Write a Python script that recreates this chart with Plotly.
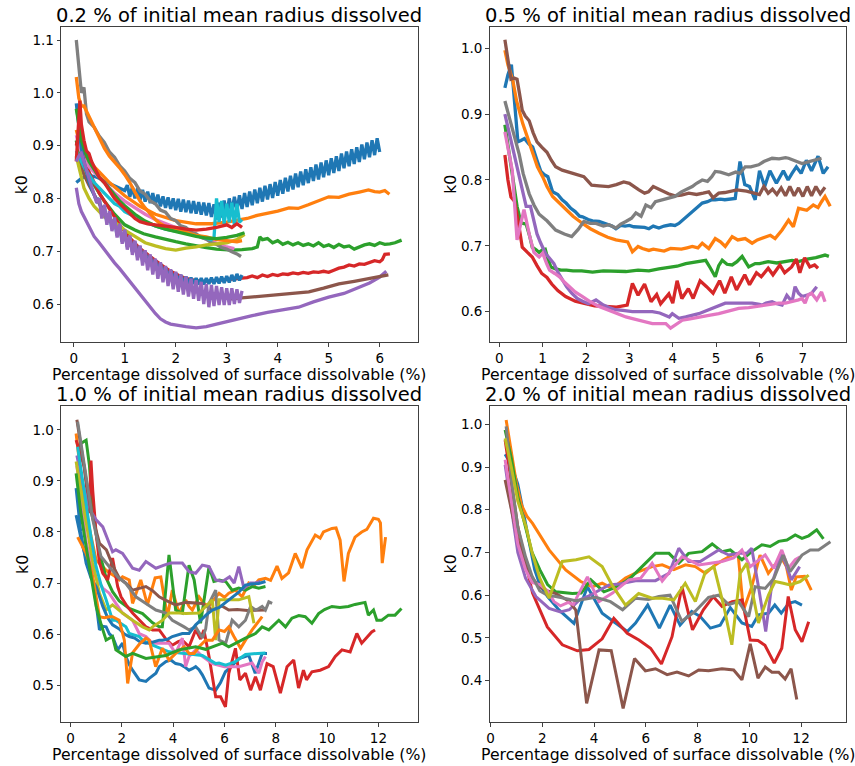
import numpy as np
import plotly.graph_objects as go

# ---------------------------------------------------------------- text
TITLES = [
    "0.2 % of initial mean radius dissolved",
    "0.5 % of initial mean radius dissolved",
    "1.0 % of initial mean radius dissolved",
    "2.0 % of initial mean radius dissolved",
]
X_LABEL = "Percentage dissolved of surface dissolvable (%)"
Y_LABEL = "k0"

P1_XTICKS = [0, 1, 2, 3, 4, 5, 6]
P1_YTICKS = [0.6, 0.7, 0.8, 0.9, 1.0, 1.1]
P2_XTICKS = [0, 1, 2, 3, 4, 5, 6, 7]
P2_YTICKS = [0.6, 0.7, 0.8, 0.9, 1.0]
P3_XTICKS = [0, 2, 4, 6, 8, 10, 12]
P3_YTICKS = [0.5, 0.6, 0.7, 0.8, 0.9, 1.0]
P4_XTICKS = [0, 2, 4, 6, 8, 10, 12]
P4_YTICKS = [0.4, 0.5, 0.6, 0.7, 0.8, 0.9, 1.0]

# ---------------------------------------------------------------- panel 1 (0.2 %)
P1_BLUE_UP_Y = [
    0.830, 0.835, 0.838, 0.840, 0.842, 0.845, 0.843, 0.842, 0.840, 0.838,
    0.835, 0.832, 0.830, 0.828, 0.826, 0.824, 0.822, 0.820, 0.818, 0.815,
    0.825, 0.803, 0.822, 0.800, 0.819, 0.797, 0.816, 0.794, 0.813, 0.791,
    0.810, 0.788, 0.807, 0.785, 0.804, 0.782, 0.802, 0.780, 0.800, 0.778,
    0.799, 0.775, 0.798, 0.774, 0.796, 0.772, 0.795, 0.771, 0.793, 0.769,
    0.792, 0.768, 0.791, 0.765, 0.789, 0.760, 0.792, 0.764, 0.796, 0.770,
    0.800, 0.774, 0.803, 0.777, 0.806, 0.780, 0.810, 0.784, 0.813, 0.787,
    0.817, 0.791, 0.820, 0.794, 0.824, 0.798, 0.827, 0.801, 0.831, 0.805,
    0.835, 0.809, 0.839, 0.813, 0.843, 0.817, 0.847, 0.821, 0.851, 0.825,
    0.855, 0.829, 0.859, 0.833, 0.864, 0.836, 0.868, 0.840, 0.872, 0.844,
    0.876, 0.848, 0.880, 0.852, 0.885, 0.857, 0.889, 0.861, 0.893, 0.865,
    0.897, 0.869, 0.902, 0.874, 0.906, 0.878, 0.910, 0.882, 0.914, 0.888,
]
P1_BLUE_UP_X = np.linspace(0.05, 6.0, len(P1_BLUE_UP_Y))

P1_BLUE_LOW_Y = [
    0.980, 0.930, 0.895, 0.870, 0.850, 0.832, 0.818, 0.805, 0.795,
    0.800, 0.770, 0.785, 0.755, 0.772, 0.742, 0.760, 0.730, 0.748, 0.718,
    0.737, 0.708, 0.727, 0.699, 0.718, 0.690, 0.709, 0.682, 0.700, 0.675,
    0.692, 0.668, 0.684, 0.662, 0.677, 0.656, 0.670, 0.651, 0.664, 0.647,
    0.659, 0.643, 0.655, 0.640, 0.652, 0.639, 0.650, 0.638, 0.649, 0.637,
    0.649, 0.637, 0.649, 0.638, 0.650, 0.638, 0.651, 0.639, 0.652, 0.640,
    0.653, 0.641, 0.655, 0.643, 0.657, 0.645, 0.655,
]
P1_BLUE_LOW_X = np.linspace(0.05, 3.30, len(P1_BLUE_LOW_Y))

P1_PURPLE_ZZ_Y = [
    0.870, 0.880, 0.885, 0.870, 0.850, 0.835, 0.820, 0.805, 0.792,
    0.800, 0.762, 0.788, 0.750, 0.776, 0.738, 0.764, 0.726, 0.752, 0.714,
    0.741, 0.703, 0.730, 0.693, 0.720, 0.683, 0.711, 0.673, 0.702, 0.664,
    0.694, 0.656, 0.686, 0.648, 0.679, 0.641, 0.672, 0.634, 0.666, 0.628,
    0.661, 0.623, 0.656, 0.618, 0.652, 0.614, 0.648, 0.610, 0.645, 0.606,
    0.642, 0.600, 0.638, 0.594, 0.636, 0.596, 0.634, 0.598, 0.632, 0.598,
    0.630, 0.598, 0.630, 0.600, 0.628, 0.602, 0.625,
]
P1_PURPLE_ZZ_X = np.linspace(0.05, 3.30, len(P1_PURPLE_ZZ_Y))

P1_GRAY_X = [0.05, 0.1, 0.15, 0.2, 0.25, 0.3, 0.4, 0.5, 0.6, 0.7, 0.8, 0.9, 1.0, 1.1, 1.2, 1.3, 1.4, 1.5,
             1.6, 1.7, 1.8, 1.9, 2.0, 2.1, 2.2, 2.3, 2.4, 2.5, 2.6, 2.7, 2.8, 2.9, 3.0, 3.1, 3.2, 3.28]
P1_GRAY_Y = [1.10, 1.05, 1.00, 1.01, 0.96, 0.945, 0.935, 0.918, 0.906, 0.888, 0.878, 0.862, 0.852, 0.838,
             0.830, 0.814, 0.808, 0.795, 0.790, 0.778, 0.774, 0.762, 0.758, 0.748, 0.745, 0.736, 0.733,
             0.726, 0.723, 0.716, 0.713, 0.707, 0.704, 0.699, 0.695, 0.690]

P1_ORANGE_SHORT_X = [0.05, 0.1, 0.15, 0.2, 0.3, 0.4, 0.5, 0.6, 0.7, 0.8, 0.9, 1.0, 1.1, 1.2, 1.3, 1.4,
                     1.5, 1.6, 1.7, 1.8, 2.0, 2.2, 2.4, 2.6, 2.8, 3.0, 3.2, 3.3]
P1_ORANGE_SHORT_Y = [1.03, 0.99, 0.975, 0.975, 0.955, 0.935, 0.915, 0.895, 0.88, 0.87, 0.858, 0.845,
                     0.83, 0.812, 0.795, 0.782, 0.77, 0.76, 0.752, 0.747, 0.742, 0.736, 0.73, 0.727,
                     0.722, 0.72, 0.718, 0.72]

P1_ORANGE_LONG_X = [0.05, 0.1, 0.2, 0.3, 0.5, 0.7, 1.0, 1.3, 1.6, 2.0, 2.4, 2.7, 3.0, 3.24, 3.4, 3.6,
                    3.8, 4.0, 4.22, 4.4, 4.6, 4.8, 5.0, 5.2, 5.4, 5.6, 5.78, 5.9, 6.0, 6.1, 6.19]
P1_ORANGE_LONG_Y = [0.93, 0.91, 0.89, 0.87, 0.85, 0.83, 0.805, 0.785, 0.77, 0.758, 0.752, 0.752, 0.755,
                    0.759, 0.762, 0.768, 0.772, 0.776, 0.782, 0.781, 0.788, 0.795, 0.803, 0.802, 0.808,
                    0.812, 0.816, 0.813, 0.812, 0.815, 0.808]

P1_GREEN_SHORT_X = [0.05, 0.1, 0.15, 0.2, 0.3, 0.4, 0.5, 0.6, 0.7, 0.8, 0.9, 1.0, 1.1, 1.2, 1.4, 1.6,
                    1.8, 2.0, 2.2, 2.4, 2.6, 2.8, 3.0, 3.2, 3.35]
P1_GREEN_SHORT_Y = [0.97, 0.94, 0.91, 0.895, 0.87, 0.855, 0.84, 0.83, 0.818, 0.808, 0.795, 0.786, 0.778,
                    0.77, 0.757, 0.748, 0.742, 0.737, 0.732, 0.728, 0.725, 0.724, 0.726, 0.73, 0.735]

P1_GREEN_LONG_X = [0.05, 0.1, 0.2, 0.3, 0.4, 0.5, 0.6, 0.8, 1.0, 1.2, 1.37, 1.6, 1.8, 2.0, 2.2, 2.4,
                   2.6, 2.8, 3.0, 3.1, 3.3, 3.5, 3.6, 3.65,
                   3.7, 3.8, 3.9, 4.0, 4.1, 4.2, 4.3, 4.4, 4.5, 4.6, 4.7, 4.8, 4.9, 5.0, 5.1, 5.2,
                   5.3, 5.4, 5.5, 5.6, 5.7, 5.8, 5.9, 6.0, 6.1, 6.2, 6.3, 6.43]
P1_GREEN_LONG_Y = [0.91, 0.885, 0.86, 0.84, 0.825, 0.81, 0.795, 0.77, 0.75, 0.74, 0.733, 0.727, 0.722,
                   0.718, 0.714, 0.71, 0.707, 0.704, 0.702, 0.702, 0.703, 0.705, 0.708, 0.727,
                   0.722, 0.724, 0.716, 0.72, 0.713, 0.717, 0.712, 0.716, 0.711, 0.714, 0.71, 0.716,
                   0.709, 0.712, 0.707, 0.713, 0.708, 0.71, 0.704, 0.708, 0.712, 0.714, 0.711, 0.716,
                   0.713, 0.714, 0.716, 0.721]

P1_RED_SHORT_X = [0.05, 0.08, 0.12, 0.15, 0.2, 0.25, 0.3, 0.35, 0.4, 0.5, 0.6, 0.7, 0.8, 0.9, 1.0,
                  1.1, 1.2, 1.3, 1.45, 1.6, 1.8, 2.0, 2.2, 2.4, 2.6, 2.8, 3.0, 3.1, 3.2, 3.3]
P1_RED_SHORT_Y = [0.87, 0.93, 0.985, 0.94, 0.91, 0.89, 0.885, 0.87, 0.86, 0.84, 0.83, 0.815, 0.80,
                  0.79, 0.78, 0.77, 0.762, 0.756, 0.752, 0.75, 0.748, 0.745, 0.742, 0.74, 0.742,
                  0.745, 0.75, 0.745, 0.752, 0.745]

P1_RED_LONG_X = [0.05, 0.1, 0.2, 0.3, 0.4, 0.5, 0.7, 0.9, 1.1, 1.3, 1.5, 1.7, 1.9, 2.1, 2.3, 2.5, 2.7,
                 2.9, 3.1,
                 3.3, 3.4, 3.5, 3.6, 3.7, 3.8, 3.9, 4.0, 4.1, 4.2, 4.3, 4.4, 4.5, 4.6, 4.7, 4.8, 4.9,
                 5.0, 5.1, 5.2, 5.3, 5.4, 5.5, 5.6, 5.7, 5.8, 5.9, 6.0, 6.05, 6.1, 6.2]
P1_RED_LONG_Y = [0.90, 0.92, 0.88, 0.85, 0.83, 0.81, 0.78, 0.75, 0.725, 0.705, 0.69, 0.675, 0.662,
                 0.652, 0.646, 0.643, 0.644, 0.645, 0.647,
                 0.649, 0.65, 0.653, 0.65, 0.655, 0.652, 0.656, 0.654, 0.657, 0.656, 0.659, 0.657,
                 0.66, 0.658, 0.661, 0.66, 0.662, 0.66, 0.664, 0.668, 0.67, 0.674, 0.672, 0.676,
                 0.675, 0.679, 0.682, 0.68, 0.684, 0.694, 0.695]

P1_BROWN_X = [0.05, 0.1, 0.2, 0.3, 0.5, 0.7, 0.9, 1.1, 1.3, 1.5, 1.7, 1.9, 2.1, 2.3, 2.5, 2.7, 2.9,
              3.1, 3.24, 3.5, 3.8, 4.1, 4.4, 4.61, 4.9, 5.2, 5.5, 5.8, 6.0, 6.17]
P1_BROWN_Y = [0.88, 0.87, 0.845, 0.825, 0.79, 0.76, 0.735, 0.712, 0.692, 0.675, 0.66, 0.648, 0.638,
              0.628, 0.62, 0.615, 0.612, 0.61, 0.611, 0.613, 0.616, 0.619, 0.621, 0.623, 0.63,
              0.638, 0.643, 0.648, 0.652, 0.655]

P1_PURPLE_X = [0.05, 0.1, 0.15, 0.2, 0.3, 0.4, 0.5, 0.6, 0.7, 0.8, 0.9, 1.0, 1.1, 1.2, 1.3, 1.4, 1.5,
               1.6, 1.7, 1.8, 1.9, 2.0, 2.2, 2.4, 2.6, 2.8, 3.0, 3.26, 3.5, 3.8, 4.1, 4.41, 4.7, 5.0,
               5.3, 5.59, 5.8, 6.0, 6.13]
P1_PURPLE_Y = [0.82, 0.79, 0.775, 0.765, 0.745, 0.728, 0.716, 0.703, 0.69, 0.678, 0.667, 0.655, 0.643,
               0.63, 0.618, 0.605, 0.593, 0.582, 0.572, 0.566, 0.562, 0.56, 0.557, 0.555, 0.557,
               0.562, 0.567, 0.573, 0.578, 0.584, 0.589, 0.594, 0.604, 0.613, 0.62, 0.632, 0.64,
               0.651, 0.662]

P1_PINK_X = [0.05, 0.1, 0.2, 0.3, 0.4, 0.5, 0.6, 0.7, 0.8, 1.0, 1.2, 1.4, 1.6, 1.8, 2.0, 2.2, 2.4,
             2.6, 2.8, 3.0, 3.15]
P1_PINK_Y = [0.92, 0.90, 0.875, 0.86, 0.85, 0.84, 0.83, 0.82, 0.81, 0.795, 0.782, 0.77, 0.76, 0.752,
             0.745, 0.738, 0.73, 0.722, 0.715, 0.708, 0.705]

P1_OLIVE_X = [0.05, 0.1, 0.15, 0.2, 0.3, 0.4, 0.5, 0.6, 0.7, 0.8, 0.9, 1.0, 1.2, 1.4, 1.6, 1.8, 2.0,
              2.2, 2.4, 2.6, 2.8, 3.0, 3.2, 3.35]
P1_OLIVE_Y = [0.88, 0.86, 0.835, 0.82, 0.80, 0.785, 0.775, 0.765, 0.76, 0.755, 0.748, 0.74, 0.728,
              0.716, 0.71, 0.705, 0.702, 0.706, 0.708, 0.712, 0.714, 0.716, 0.722, 0.732]

P1_CYAN_X = [0.05, 0.1, 0.2, 0.3, 0.4, 0.5, 0.6, 0.7, 0.8, 0.9, 1.0, 1.2, 1.4, 1.6, 1.8, 2.0, 2.2,
             2.4, 2.6, 2.7, 2.75, 2.8, 2.85, 2.9, 2.95, 3.0, 3.05, 3.1, 3.15, 3.2, 3.25, 3.3]
P1_CYAN_Y = [0.89, 0.88, 0.86, 0.845, 0.83, 0.82, 0.81, 0.80, 0.79, 0.785, 0.775, 0.765, 0.755, 0.748,
             0.742, 0.738, 0.735, 0.73, 0.725, 0.722, 0.725, 0.80, 0.755, 0.795, 0.752, 0.79, 0.755,
             0.792, 0.75, 0.79, 0.755, 0.76]

# ---------------------------------------------------------------- panel 2 (0.5 %)
P2_BLUE_X = [0.13, 0.2, 0.28, 0.35, 0.43, 0.5, 0.58, 0.68, 0.77, 0.87, 0.96, 1.04, 1.12, 1.23, 1.35,
             1.45, 1.54, 1.65, 1.75, 1.85, 1.92, 2.05, 2.15, 2.3, 2.45, 2.6, 2.69, 2.8, 2.9, 3.0,
             3.1, 3.22, 3.35, 3.45, 3.55, 3.68, 3.8, 3.95, 4.05, 4.14, 4.3, 4.45, 4.6, 4.68, 4.8,
             4.9, 4.98, 5.1, 5.2, 5.3, 5.44, 5.55, 5.66, 5.77, 5.9, 6.0, 6.12, 6.24, 6.39, 6.55,
             6.66, 6.75, 6.85, 6.96, 7.08, 7.2, 7.35, 7.47, 7.58]
P2_BLUE_Y = [0.94, 0.96, 0.975, 0.92, 0.858, 0.86, 0.863, 0.855, 0.85, 0.83, 0.813, 0.808, 0.805,
             0.782, 0.778, 0.77, 0.765, 0.757, 0.752, 0.745, 0.744, 0.74, 0.738, 0.737, 0.733, 0.73,
             0.726, 0.731, 0.73, 0.731, 0.729, 0.729, 0.728, 0.726, 0.73, 0.727, 0.73, 0.732, 0.731,
             0.734, 0.743, 0.752, 0.76, 0.765, 0.767, 0.77, 0.77, 0.771, 0.77, 0.771, 0.772, 0.828,
             0.793, 0.79, 0.77, 0.814, 0.79, 0.814, 0.795, 0.814, 0.80, 0.81, 0.82, 0.81, 0.83,
             0.814, 0.836, 0.81, 0.82]

P2_ORANGE_X = [0.13, 0.2, 0.31, 0.4, 0.54, 0.65, 0.77, 0.88, 1.0, 1.1, 1.23, 1.38, 1.54, 1.7, 1.92,
               2.1, 2.3, 2.5, 2.69, 2.85, 2.96, 3.07, 3.2, 3.3, 3.45, 3.55, 3.68, 3.8, 3.95, 4.07,
               4.2, 4.33, 4.45, 4.58, 4.68, 4.83, 4.98, 5.1, 5.21, 5.37, 5.5, 5.67, 5.83, 5.95,
               6.13, 6.25, 6.36, 6.52, 6.67, 6.78, 6.9, 7.0, 7.09, 7.24, 7.35, 7.43, 7.51, 7.63]
P2_ORANGE_Y = [0.997, 0.975, 0.952, 0.92, 0.886, 0.865, 0.84, 0.82, 0.805, 0.79, 0.775, 0.765, 0.754,
               0.745, 0.734, 0.726, 0.719, 0.713, 0.709, 0.707, 0.706, 0.691, 0.699, 0.696, 0.693,
               0.695, 0.694, 0.692, 0.696, 0.696, 0.695, 0.697, 0.699, 0.697, 0.704, 0.696, 0.711,
               0.706, 0.699, 0.714, 0.709, 0.711, 0.704, 0.709, 0.714, 0.716, 0.711, 0.724, 0.739,
               0.729, 0.757, 0.755, 0.754, 0.762, 0.758, 0.767, 0.775, 0.76]

P2_GREEN_X = [0.13, 0.23, 0.31, 0.41, 0.5, 0.62, 0.7, 0.76, 0.85, 0.92, 1.0, 1.06, 1.12, 1.19, 1.3,
              1.42, 1.55, 1.7, 1.9, 2.15, 2.4, 2.65, 2.92, 3.2, 3.45, 3.68, 3.9, 4.1, 4.3, 4.55,
              4.76, 4.87, 4.98, 5.06, 5.14, 5.25, 5.37, 5.48, 5.6, 5.75, 5.9, 6.0, 6.2, 6.4, 6.6,
              6.75, 6.9, 7.1, 7.3, 7.51, 7.6]
P2_GREEN_Y = [0.884, 0.839, 0.80, 0.76, 0.735, 0.733, 0.715, 0.698, 0.694, 0.69, 0.694, 0.695, 0.68,
              0.668, 0.665, 0.663, 0.663, 0.662, 0.662, 0.66, 0.662, 0.661, 0.661, 0.663, 0.662,
              0.665, 0.667, 0.669, 0.673, 0.676, 0.678, 0.666, 0.653, 0.67, 0.678, 0.672, 0.671,
              0.676, 0.684, 0.668, 0.673, 0.673, 0.676, 0.674, 0.676, 0.678, 0.676, 0.68, 0.682,
              0.686, 0.684]

P2_RED_X = [0.13, 0.2, 0.27, 0.35, 0.43, 0.53, 0.65, 0.76, 0.87, 0.98, 1.1, 1.21, 1.35, 1.53, 1.75,
            1.99, 2.2, 2.45, 2.7, 2.95, 3.07, 3.2, 3.35, 3.5, 3.63, 3.72, 3.81, 3.91, 4.0, 4.1,
            4.21, 4.36, 4.47, 4.63, 4.78, 4.93, 5.08, 5.2, 5.35, 5.47, 5.66, 5.77, 5.93, 6.04, 6.2,
            6.31, 6.47, 6.58, 6.74, 6.85, 6.93, 7.04, 7.16, 7.27, 7.35]
P2_RED_Y = [0.838, 0.80, 0.774, 0.768, 0.74, 0.698, 0.69, 0.683, 0.67, 0.658, 0.652, 0.642, 0.632,
            0.623, 0.616, 0.612, 0.609, 0.608, 0.607, 0.61, 0.643, 0.625, 0.642, 0.615, 0.626, 0.612,
            0.62, 0.627, 0.613, 0.647, 0.62, 0.635, 0.62, 0.647, 0.638, 0.628, 0.647, 0.628, 0.653,
            0.633, 0.656, 0.641, 0.659, 0.653, 0.666, 0.656, 0.671, 0.659, 0.668, 0.68, 0.659,
            0.682, 0.668, 0.671, 0.666]

P2_PURPLE_X = [0.13, 0.3, 0.46, 0.55, 0.62, 0.72, 0.8, 0.87, 0.95, 1.07, 1.15, 1.26, 1.35, 1.45,
               1.55, 1.67, 1.8, 1.92, 2.06, 2.23, 2.4, 2.55, 2.68, 2.85, 3.07, 3.3, 3.53, 3.7, 3.84,
               3.92, 3.99, 4.07, 4.14, 4.3, 4.45, 4.6, 4.83, 5.0, 5.21, 5.4, 5.6, 5.83, 6.0, 6.06,
               6.15, 6.29, 6.4, 6.52, 6.63, 6.75, 6.82, 6.9, 6.98, 7.1, 7.2, 7.32]
P2_PURPLE_Y = [0.90, 0.85, 0.805, 0.78, 0.76, 0.76, 0.74, 0.718, 0.705, 0.688, 0.682, 0.673, 0.66,
               0.648, 0.638, 0.628, 0.62, 0.616, 0.612, 0.618, 0.61, 0.606, 0.603, 0.602, 0.60,
               0.60, 0.60, 0.598, 0.595, 0.592, 0.597, 0.594, 0.59, 0.592, 0.595, 0.597, 0.603,
               0.608, 0.613, 0.613, 0.613, 0.613, 0.611, 0.61, 0.613, 0.615, 0.612, 0.61, 0.625,
               0.615, 0.638, 0.628, 0.623, 0.625, 0.628, 0.638]

P2_BROWN_X = [0.13, 0.2, 0.27, 0.34, 0.41, 0.47, 0.53, 0.6, 0.69, 0.78, 0.87, 0.98, 1.1, 1.2, 1.3,
              1.45, 1.6, 1.78, 1.95, 2.05, 2.13, 2.3, 2.52, 2.7, 2.87, 3.0, 3.1, 3.22, 3.35, 3.44,
              3.55, 3.7, 3.9, 4.05, 4.2, 4.37, 4.55, 4.7, 4.83, 4.93, 5.06, 5.2, 5.48, 5.7, 5.9,
              6.0, 6.1, 6.2, 6.3, 6.4, 6.5, 6.6, 6.7, 6.8, 6.9, 7.0, 7.1, 7.2, 7.3, 7.4, 7.51]
P2_BROWN_Y = [1.013, 0.98, 0.953, 0.955, 0.953, 0.93, 0.906, 0.897, 0.89, 0.872, 0.858, 0.85, 0.842,
              0.83, 0.82, 0.815, 0.812, 0.809, 0.805, 0.798, 0.792, 0.791, 0.79, 0.793, 0.797, 0.795,
              0.79, 0.785, 0.78, 0.782, 0.79, 0.785, 0.779, 0.776, 0.777, 0.78, 0.778, 0.78, 0.782,
              0.773, 0.78, 0.781, 0.785, 0.783, 0.78, 0.778, 0.79, 0.78, 0.786, 0.778, 0.788, 0.776,
              0.79, 0.776, 0.788, 0.775, 0.79, 0.776, 0.79, 0.779, 0.789]

P2_PINK_X = [0.13, 0.3, 0.41, 0.5, 0.57, 0.7, 0.8, 0.92, 1.0, 1.1, 1.16, 1.28, 1.39, 1.5, 1.62, 1.75,
             1.92, 2.1, 2.3, 2.45, 2.61, 2.75, 2.92, 3.05, 3.22, 3.35, 3.53, 3.7, 3.84, 3.95, 4.05,
             4.22, 4.4, 4.6, 4.8, 5.06, 5.3, 5.52, 5.75, 5.98, 6.2, 6.44, 6.6, 6.75, 6.9, 6.98,
             7.05, 7.12, 7.2, 7.32, 7.43, 7.51]
P2_PINK_Y = [0.873, 0.815, 0.709, 0.735, 0.755, 0.715, 0.69, 0.683, 0.689, 0.672, 0.663, 0.658, 0.653,
             0.645, 0.638, 0.63, 0.623, 0.615, 0.608, 0.604, 0.60, 0.596, 0.592, 0.59, 0.587, 0.585,
             0.582, 0.582, 0.582, 0.575, 0.58, 0.587, 0.589, 0.592, 0.594, 0.597, 0.601, 0.605,
             0.606, 0.608, 0.611, 0.613, 0.613, 0.615, 0.618, 0.62, 0.613, 0.625, 0.628, 0.618,
             0.63, 0.615]

P2_GRAY_X = [0.13, 0.3, 0.46, 0.55, 0.69, 0.8, 0.92, 1.1, 1.3, 1.5, 1.67, 1.82, 1.95, 2.1, 2.23, 2.4,
             2.53, 2.69, 2.8, 2.92, 3.05, 3.15, 3.27, 3.38, 3.5, 3.6, 3.75, 3.91, 4.05, 4.2, 4.3,
             4.45, 4.55, 4.68, 4.8, 4.9, 4.98, 5.1, 5.29, 5.45, 5.55, 5.67, 5.8, 5.98, 6.1, 6.29,
             6.45, 6.6, 6.67, 6.8, 6.98, 7.1, 7.25, 7.43]
P2_GRAY_Y = [0.92, 0.878, 0.839, 0.81, 0.779, 0.762, 0.748, 0.738, 0.724, 0.718, 0.714, 0.725, 0.737,
             0.734, 0.734, 0.73, 0.732, 0.727, 0.733, 0.737, 0.742, 0.75, 0.745, 0.762, 0.758, 0.767,
             0.77, 0.772, 0.775, 0.782, 0.785, 0.79, 0.795, 0.80, 0.798, 0.805, 0.813, 0.812, 0.808,
             0.812, 0.81, 0.82, 0.82, 0.823, 0.828, 0.833, 0.832, 0.834, 0.833, 0.83, 0.825, 0.827,
             0.83, 0.833]

# ---------------------------------------------------------------- panel 3 (1.0 %)
P3_BLUE_A_X = [0.22, 0.35, 0.48, 0.67, 0.87, 1.0, 1.13, 1.26, 1.39, 1.52, 1.64, 1.84, 2.03, 2.16,
               2.29, 2.42, 2.68, 2.94, 3.07, 3.33, 3.46, 3.72, 3.91, 4.1, 4.3, 4.43, 4.62, 4.75,
               4.88, 5.01, 5.14, 5.4, 5.53, 5.66, 5.85, 6.04, 6.25, 6.56, 6.75, 6.95, 7.2, 7.47, 7.66]
P3_BLUE_A_Y = [0.833, 0.80, 0.771, 0.74, 0.706, 0.66, 0.608, 0.615, 0.614, 0.60, 0.595, 0.569, 0.582,
               0.556, 0.54, 0.529, 0.51, 0.507, 0.513, 0.523, 0.536, 0.546, 0.549, 0.542, 0.54,
               0.536, 0.529, 0.532, 0.536, 0.53, 0.52, 0.494, 0.492, 0.49, 0.505, 0.526, 0.535,
               0.552, 0.555, 0.558, 0.523, 0.562, 0.562]

P3_BLUE_B_X = [0.22, 0.4, 0.61, 0.8, 1.0, 1.13, 1.26, 1.45, 1.64, 1.9, 2.1, 2.29, 2.5, 2.7, 2.94, 3.2,
               3.46, 3.58, 3.8, 3.97, 4.2, 4.36, 4.62, 4.88, 5.1, 5.3, 5.53, 5.8, 6.05, 6.3, 6.56,
               6.82, 7.05, 7.34, 7.6]
P3_BLUE_B_Y = [0.886, 0.80, 0.739, 0.71, 0.693, 0.672, 0.654, 0.632, 0.618, 0.61, 0.60, 0.595, 0.592,
               0.585, 0.582, 0.584, 0.588, 0.588, 0.59, 0.595, 0.598, 0.601, 0.601, 0.618, 0.628,
               0.638, 0.647, 0.652, 0.662, 0.672, 0.682, 0.696, 0.698, 0.699, 0.703]

P3_ORANGE_A_X = [0.22, 0.35, 0.48, 0.61, 0.8, 1.0, 1.2, 1.39, 1.58, 1.77,
                 1.9, 2.03, 2.29, 2.42, 2.74, 3.0, 3.3, 3.52, 3.78, 3.97,
                 4.23, 4.49, 4.62, 4.75, 5.01, 5.2, 5.4, 5.59, 5.79, 6.0,
                 6.17, 6.43, 6.69, 6.95, 7.15, 7.34, 7.6, 7.8, 8.05, 8.24,
                 8.5, 8.76, 9.02, 9.22, 9.54, 9.73, 9.86, 10.0, 10.19, 10.35,
                 10.51, 10.66, 10.83, 11.09, 11.35, 11.55, 11.81, 12.0, 12.08, 12.15,
                 12.28]
P3_ORANGE_A_Y = [0.993, 0.93, 0.88, 0.837, 0.79, 0.745, 0.735, 0.725, 0.718, 0.712,
                 0.706, 0.712, 0.706, 0.66, 0.706, 0.657, 0.71, 0.712, 0.634, 0.686,
                 0.641, 0.667, 0.654, 0.647, 0.673, 0.66, 0.654, 0.668, 0.68, 0.672,
                 0.68, 0.686, 0.673, 0.70, 0.695, 0.706, 0.709, 0.705, 0.733, 0.709,
                 0.72, 0.758, 0.729, 0.765, 0.794, 0.788, 0.80, 0.803, 0.807, 0.808,
                 0.784, 0.703, 0.758, 0.79, 0.80, 0.805, 0.827, 0.825, 0.818, 0.739,
                 0.79]

P3_ORANGE_B_X = [0.28, 0.45, 0.61, 0.74, 0.87, 1.13, 1.32, 1.51, 1.64, 1.9, 2.1, 2.23, 2.42, 2.68,
                 2.94, 3.07, 3.32, 3.58, 3.84, 4.1, 4.43, 4.62, 4.82, 5.01, 5.27, 5.53, 5.79, 6.0,
                 6.17, 6.37, 6.63, 6.82, 7.08, 7.47]
P3_ORANGE_B_Y = [0.79, 0.775, 0.758, 0.74, 0.712, 0.634, 0.632, 0.634, 0.634, 0.627, 0.588, 0.503,
                 0.563, 0.58, 0.592, 0.588, 0.536, 0.572, 0.549, 0.562, 0.575, 0.562, 0.562, 0.575,
                 0.588, 0.588, 0.608, 0.605, 0.614, 0.595, 0.572, 0.588, 0.608, 0.634]

P3_GREEN_A_X = [0.28, 0.45, 0.61, 0.74, 0.87, 1.0, 1.13, 1.26, 1.39, 1.64, 1.9, 2.29, 2.81, 3.2, 3.46,
                3.58, 3.84, 4.1, 4.36, 4.62, 4.82, 5.07, 5.4, 5.59, 5.8, 6.05, 6.3, 6.56, 6.82, 7.08,
                7.34, 7.6]
P3_GREEN_A_Y = [0.967, 0.975, 0.98, 0.93, 0.837, 0.795, 0.758, 0.735, 0.71, 0.683, 0.665, 0.65, 0.64,
                0.622, 0.614, 0.614, 0.755, 0.647, 0.641, 0.735, 0.706, 0.621, 0.732, 0.703, 0.706,
                0.703, 0.686, 0.69, 0.686, 0.693, 0.69, 0.693]

P3_GREEN_B_X = [0.22, 0.4, 0.61, 0.8, 1.0, 1.2, 1.39, 1.64, 1.77, 2.16, 2.42, 2.94, 3.59, 3.72, 4.23,
                4.88, 5.27, 5.92, 6.17, 6.43, 6.82, 7.21, 7.47, 7.73, 8.12, 8.38, 8.63, 8.9, 9.15,
                9.41, 9.67, 9.9, 10.19, 10.5, 10.83, 11.09, 11.35, 11.48, 11.61, 11.81, 11.94,
                12.13, 12.39, 12.65, 12.9]
P3_GREEN_B_Y = [0.915, 0.84, 0.771, 0.71, 0.654, 0.618, 0.588, 0.595, 0.569, 0.556, 0.562, 0.552,
                0.556, 0.558, 0.569, 0.575, 0.57, 0.582, 0.575, 0.582, 0.592, 0.601, 0.614, 0.608,
                0.627, 0.614, 0.631, 0.636, 0.634, 0.621, 0.64, 0.648, 0.654, 0.652, 0.654, 0.658,
                0.66, 0.662, 0.637, 0.647, 0.627, 0.627, 0.637, 0.637, 0.65]

P3_RED_X = [0.22, 0.4, 0.54, 0.67, 0.74, 0.8, 0.87, 1.0, 1.13, 1.26,
            1.45, 1.64, 1.84, 1.97, 2.2, 2.42, 2.68, 2.94, 3.2, 3.46,
            3.72, 3.97, 4.2, 4.36, 4.62, 4.88, 5.07, 5.2, 5.4, 5.66,
            5.85, 6.04, 6.17, 6.43, 6.6, 6.82, 7.02, 7.21, 7.4, 7.66,
            7.9, 8.18, 8.44, 8.7, 8.89, 9.08, 9.2, 9.41, 9.73, 10.06,
            10.32, 10.58, 10.9, 11.16, 11.35, 11.61, 11.74, 11.87]
P3_RED_Y = [0.98, 0.95, 0.928, 0.87, 0.837, 0.94, 0.88, 0.797, 0.74, 0.719,
            0.706, 0.749, 0.693, 0.673, 0.655, 0.641, 0.627, 0.614, 0.608, 0.608,
            0.59, 0.578, 0.585, 0.588, 0.575, 0.608, 0.59, 0.608, 0.556, 0.477,
            0.477, 0.457, 0.523, 0.572, 0.51, 0.523, 0.49, 0.516, 0.49, 0.542,
            0.536, 0.484, 0.536, 0.549, 0.494, 0.529, 0.51, 0.526, 0.529, 0.536,
            0.556, 0.569, 0.565, 0.601, 0.582, 0.598, 0.604, 0.608]

P3_PURPLE_X = [0.25, 0.45, 0.61, 0.8, 1.0, 1.26, 1.51, 1.64, 1.77, 2.03, 2.42, 2.68, 2.94, 3.33, 3.65,
               3.91, 4.36, 4.62, 4.88, 5.14, 5.4, 5.66, 5.92, 6.2, 6.38, 6.56, 6.76, 7.02, 7.2, 7.4]
P3_PURPLE_Y = [0.95, 0.90, 0.87, 0.84, 0.824, 0.81, 0.778, 0.761, 0.765, 0.758, 0.729, 0.725, 0.742,
               0.729, 0.735, 0.739, 0.739, 0.722, 0.719, 0.735, 0.732, 0.706, 0.703, 0.712, 0.70,
               0.732, 0.69, 0.70, 0.70, 0.703]

P3_BROWN_X = [0.25, 0.45, 0.61, 0.8, 1.13, 1.4, 1.64, 1.9, 2.16, 2.42, 2.68, 2.94, 3.2, 3.46, 3.72,
              4.1, 4.5, 4.88, 5.14, 5.53, 5.9, 6.17, 6.5, 6.9, 7.3, 7.6]
P3_BROWN_Y = [1.02, 0.95, 0.902, 0.84, 0.778, 0.765, 0.735, 0.71, 0.70, 0.686, 0.69, 0.693, 0.685,
              0.673, 0.666, 0.657, 0.662, 0.66, 0.66, 0.647, 0.655, 0.647, 0.648, 0.646, 0.647,
              0.647]

P3_PINK_X = [0.25, 0.45, 0.61, 0.8, 1.0, 1.26, 1.51, 1.77, 2.03, 2.42, 2.68, 2.94, 3.2, 3.46, 3.84,
             4.1, 4.36, 4.49, 4.62, 4.88, 5.14, 5.53, 6.0, 6.56, 7.08, 7.34, 7.47, 7.6]
P3_PINK_Y = [0.93, 0.84, 0.78, 0.74, 0.71, 0.69, 0.68, 0.66, 0.641, 0.627, 0.601, 0.595, 0.582, 0.582,
             0.582, 0.562, 0.592, 0.536, 0.556, 0.569, 0.556, 0.542, 0.536, 0.536, 0.543, 0.523,
             0.545, 0.556]

P3_GRAY_X = [0.28, 0.45, 0.61, 0.87, 1.19, 1.51, 1.84, 2.16, 2.55, 2.94, 3.33, 3.72, 3.97, 4.43, 4.62,
             4.88, 5.14, 5.27, 5.4, 5.66, 5.79, 6.05, 6.3, 6.56, 6.82, 7.02, 7.21, 7.34, 7.47, 7.6,
             7.73, 7.86]
P3_GRAY_Y = [1.016, 0.96, 0.915, 0.824, 0.752, 0.732, 0.712, 0.699, 0.673, 0.66, 0.647, 0.641, 0.627,
             0.614, 0.608, 0.614, 0.592, 0.61, 0.66, 0.686, 0.588, 0.582, 0.627, 0.614, 0.627, 0.654,
             0.647, 0.65, 0.654, 0.647, 0.663, 0.66]

P3_OLIVE_X = [0.22, 0.45, 0.61, 0.87, 1.13, 1.39, 1.64, 2.03, 2.42, 2.81, 3.07, 3.2, 3.59, 3.72, 3.84,
              4.23, 4.49, 5.01, 5.27, 5.53, 5.66, 5.79, 6.3, 6.56, 6.95, 7.15]
P3_OLIVE_Y = [0.938, 0.87, 0.824, 0.74, 0.68, 0.647, 0.657, 0.641, 0.627, 0.614, 0.608, 0.614, 0.627,
              0.634, 0.641, 0.641, 0.64, 0.641, 0.654, 0.667, 0.588, 0.667, 0.667, 0.667, 0.673,
              0.621]

P3_CYAN_X = [0.28, 0.45, 0.61, 0.8, 1.0, 1.2, 1.39, 1.64, 1.77, 2.16, 2.29, 2.68, 2.81, 3.2, 3.84,
             4.49, 5.14, 5.66, 5.79, 6.05, 6.3, 6.43, 6.82, 7.21, 7.6]
P3_CYAN_Y = [0.967, 0.91, 0.85, 0.79, 0.732, 0.695, 0.667, 0.627, 0.627, 0.614, 0.601, 0.595, 0.588,
             0.578, 0.565, 0.562, 0.558, 0.542, 0.543, 0.539, 0.543, 0.546, 0.56, 0.562, 0.563]

# ---------------------------------------------------------------- panel 4 (2.0 %)
P4_BLUE_X = [0.56, 0.8, 1.05, 1.25, 1.5, 1.7, 1.9, 2.2, 2.65, 3.22, 3.74, 4.31, 4.76, 5.28, 5.6, 6.07,
             6.52, 6.94, 7.32, 7.77, 8.1, 8.49, 8.87, 9.26, 9.71, 10.09, 10.35, 10.74, 10.98, 11.23,
             11.52, 11.77, 12.03]
P4_BLUE_Y = [0.93, 0.905, 0.86, 0.80, 0.72, 0.66, 0.625, 0.597, 0.565, 0.534, 0.62, 0.558, 0.538,
             0.515, 0.535, 0.577, 0.523, 0.577, 0.53, 0.562, 0.55, 0.523, 0.53, 0.571, 0.535, 0.527,
             0.554, 0.558, 0.577, 0.558, 0.581, 0.585, 0.577]

P4_ORANGE_X = [0.6, 0.8, 1.0, 1.2, 1.4, 1.62, 1.9, 2.26, 2.9, 3.48, 3.93, 4.31, 4.7, 5.21, 5.72, 6.24,
               6.63, 7.08, 7.53, 7.91, 8.3, 8.68, 9.0, 9.33, 9.56, 9.77, 10.09, 10.41, 10.73, 10.98,
               11.24, 11.43, 11.62, 11.81, 12.13, 12.39]
P4_ORANGE_Y = [1.01, 0.93, 0.86, 0.81, 0.785, 0.768, 0.74, 0.706, 0.659, 0.632, 0.62, 0.628, 0.616,
               0.64, 0.655, 0.667, 0.671, 0.66, 0.671, 0.667, 0.651, 0.671, 0.683, 0.694, 0.698,
               0.565, 0.62, 0.694, 0.651, 0.671, 0.687, 0.667, 0.612, 0.643, 0.644, 0.612]

P4_GREEN_X = [0.56, 0.8, 1.05, 1.35, 1.6, 1.9, 2.2, 2.52, 3.16, 3.5, 3.87, 4.38, 4.9, 5.4, 5.98, 6.37,
              6.89, 7.27, 7.65, 8.17, 8.56, 8.94, 9.26, 9.71, 10.09, 10.48, 10.8, 11.13, 11.45,
              11.77, 12.03, 12.29, 12.6, 12.86]
P4_GREEN_Y = [0.987, 0.92, 0.83, 0.76, 0.70, 0.66, 0.625, 0.608, 0.604, 0.605, 0.636, 0.608, 0.62,
              0.64, 0.675, 0.698, 0.698, 0.675, 0.698, 0.702, 0.72, 0.702, 0.706, 0.683, 0.702,
              0.718, 0.714, 0.726, 0.729, 0.741, 0.733, 0.739, 0.753, 0.732]

P4_RED_X = [0.56, 0.8, 1.05, 1.3, 1.62, 2.19, 2.77, 3.35, 3.8, 4.31, 4.76, 5.28, 5.73, 6.18, 6.6, 7.01,
            7.39, 7.8, 8.22, 8.6, 8.94, 9.33, 9.72, 10.03, 10.33, 10.6, 10.96, 11.25, 11.5, 11.77,
            12.03, 12.29]
P4_RED_Y = [0.963, 0.86, 0.76, 0.69, 0.605, 0.526, 0.484, 0.47, 0.473, 0.498, 0.546, 0.511, 0.495,
            0.476, 0.439, 0.503, 0.62, 0.519, 0.566, 0.597, 0.574, 0.585, 0.589, 0.495, 0.494,
            0.483, 0.441, 0.476, 0.597, 0.519, 0.491, 0.538]

P4_PURPLE_X = [0.56, 0.8, 1.05, 1.35, 1.75, 2.26, 2.7, 3.04, 3.43, 3.75, 4.2, 4.58, 4.96, 5.6, 6.37,
               6.89, 7.27, 7.65, 8.1, 8.49, 8.81, 9.2, 9.58, 9.9, 10.09, 10.35, 10.63, 10.87, 11.25,
               11.62, 11.94]
P4_PURPLE_Y = [0.905, 0.80, 0.70, 0.64, 0.597, 0.569, 0.561, 0.566, 0.589, 0.597, 0.612, 0.624, 0.626,
               0.634, 0.634, 0.651, 0.71, 0.679, 0.679, 0.694, 0.706, 0.694, 0.698, 0.698, 0.71,
               0.62, 0.515, 0.628, 0.698, 0.636, 0.667]

P4_BROWN_X = [0.56, 0.8, 1.05, 1.3, 1.55, 1.875, 2.2, 2.52, 3.03, 3.29, 3.71, 4.19, 4.66, 5.12, 5.56,
              5.98, 6.37, 6.82, 7.2, 7.65, 8.04, 8.42, 8.94, 9.39, 9.71, 10.03, 10.33, 10.61, 10.87,
              11.13, 11.38, 11.61, 11.83]
P4_BROWN_Y = [0.87, 0.80, 0.73, 0.68, 0.645, 0.62, 0.61, 0.604, 0.586, 0.565, 0.347, 0.472, 0.47,
              0.335, 0.452, 0.423, 0.428, 0.414, 0.42, 0.411, 0.425, 0.423, 0.428, 0.425, 0.402,
              0.486, 0.406, 0.432, 0.42, 0.42, 0.404, 0.428, 0.356]

P4_PINK_X = [0.56, 0.8, 1.05, 1.35, 1.6, 1.9, 2.2, 2.45, 2.7, 3.0, 3.19, 3.74, 4.19, 4.71, 5.34, 5.8,
             6.24, 6.63, 7.0, 7.39, 7.65, 8.04, 8.49, 8.94, 9.39, 9.71, 10.03, 10.3, 10.61, 10.93,
             11.25, 11.51, 11.77, 11.96]
P4_PINK_Y = [0.917, 0.82, 0.72, 0.66, 0.63, 0.625, 0.61, 0.585, 0.575, 0.583, 0.578, 0.643, 0.585,
             0.605, 0.636, 0.64, 0.675, 0.633, 0.66, 0.69, 0.683, 0.671, 0.675, 0.679, 0.687, 0.706,
             0.667, 0.68, 0.694, 0.663, 0.706, 0.663, 0.683, 0.69]

P4_GRAY_X = [0.6, 0.8, 1.05, 1.35, 1.6, 1.9, 2.2, 2.52, 3.29, 4.06, 4.63, 5.1, 5.6, 6.1, 6.5, 6.93,
             7.39, 7.9, 8.42, 8.81, 9.2, 9.58, 9.97, 10.22, 10.61, 10.95, 11.31, 11.57, 12.03, 12.35,
             12.67, 13.13]
P4_GRAY_Y = [0.995, 0.87, 0.76, 0.69, 0.645, 0.61, 0.60, 0.597, 0.587, 0.595, 0.585, 0.566, 0.593,
             0.59, 0.597, 0.60, 0.539, 0.562, 0.595, 0.60, 0.578, 0.585, 0.55, 0.62, 0.616, 0.64,
             0.694, 0.655, 0.694, 0.706, 0.706, 0.725]

P4_OLIVE_X = [0.56, 0.8, 1.05, 1.37, 1.6, 1.9, 2.26, 2.77, 3.3, 3.8, 4.31, 4.7, 5.21, 5.72, 6.24, 6.64,
              7.08, 7.52, 7.91, 8.3, 8.63, 9.0, 9.32, 9.64, 9.9, 10.35, 10.74, 10.99, 11.31, 11.57,
              11.96, 12.29]
P4_OLIVE_Y = [0.967, 0.90, 0.82, 0.76, 0.70, 0.64, 0.593, 0.679, 0.683, 0.69, 0.667, 0.623, 0.577,
              0.604, 0.593, 0.593, 0.589, 0.628, 0.585, 0.655, 0.667, 0.577, 0.484, 0.651, 0.675,
              0.535, 0.601, 0.632, 0.628, 0.624, 0.632, 0.647]

# ---------------------------------------------------------------- styling
FONT = "DejaVu Sans"
COLORS = {
    "blue": "#1f77b4", "orange": "#ff7f0e", "green": "#2ca02c", "red": "#d62728",
    "purple": "#9467bd", "brown": "#8c564b", "pink": "#e377c2", "gray": "#7f7f7f",
    "olive": "#bcbd22", "cyan": "#17becf",
}
W, H = 855, 766


def px_x(p):
    return p / W


def px_y(p):
    return 1 - p / H


panels = [
    dict(
        lines=[
            ("blue", P1_BLUE_UP_X, P1_BLUE_UP_Y), ("orange", P1_ORANGE_LONG_X, P1_ORANGE_LONG_Y),
            ("green", P1_GREEN_LONG_X, P1_GREEN_LONG_Y), ("red", P1_RED_LONG_X, P1_RED_LONG_Y),
            ("purple", P1_PURPLE_X, P1_PURPLE_Y), ("brown", P1_BROWN_X, P1_BROWN_Y),
            ("pink", P1_PINK_X, P1_PINK_Y), ("gray", P1_GRAY_X, P1_GRAY_Y),
            ("olive", P1_OLIVE_X, P1_OLIVE_Y), ("cyan", P1_CYAN_X, P1_CYAN_Y),
            ("blue", P1_BLUE_LOW_X, P1_BLUE_LOW_Y), ("orange", P1_ORANGE_SHORT_X, P1_ORANGE_SHORT_Y),
            ("green", P1_GREEN_SHORT_X, P1_GREEN_SHORT_Y), ("red", P1_RED_SHORT_X, P1_RED_SHORT_Y),
            ("purple", P1_PURPLE_ZZ_X, P1_PURPLE_ZZ_Y),
        ],
        box=(58.3, 416.0, 26.7, 342.3), xr=[-0.248, 6.742], yr=[0.5275, 1.1252],
        xt=P1_XTICKS, yt=P1_YTICKS, lw=3.3,
    ),
    dict(
        lines=[
            ("blue", P2_BLUE_X, P2_BLUE_Y), ("orange", P2_ORANGE_X, P2_ORANGE_Y),
            ("green", P2_GREEN_X, P2_GREEN_Y), ("red", P2_RED_X, P2_RED_Y),
            ("purple", P2_PURPLE_X, P2_PURPLE_Y), ("brown", P2_BROWN_X, P2_BROWN_Y),
            ("pink", P2_PINK_X, P2_PINK_Y), ("gray", P2_GRAY_X, P2_GRAY_Y),
        ],
        box=(488.3, 846.0, 26.7, 342.3), xr=[-0.223, 7.995], yr=[0.5535, 1.0328],
        xt=P2_XTICKS, yt=P2_YTICKS, lw=3.3,
    ),
    dict(
        lines=[
            ("blue", P3_BLUE_A_X, P3_BLUE_A_Y), ("orange", P3_ORANGE_A_X, P3_ORANGE_A_Y),
            ("green", P3_GREEN_A_X, P3_GREEN_A_Y), ("red", P3_RED_X, P3_RED_Y),
            ("purple", P3_PURPLE_X, P3_PURPLE_Y), ("brown", P3_BROWN_X, P3_BROWN_Y),
            ("pink", P3_PINK_X, P3_PINK_Y), ("gray", P3_GRAY_X, P3_GRAY_Y),
            ("olive", P3_OLIVE_X, P3_OLIVE_Y), ("cyan", P3_CYAN_X, P3_CYAN_Y),
            ("blue", P3_BLUE_B_X, P3_BLUE_B_Y), ("orange", P3_ORANGE_B_X, P3_ORANGE_B_Y),
            ("green", P3_GREEN_B_X, P3_GREEN_B_Y),
        ],
        box=(58.3, 416.0, 406.0, 722.3), xr=[-0.365, 13.526], yr=[0.4269, 1.047],
        xt=P3_XTICKS, yt=P3_YTICKS, lw=3.0,
    ),
    dict(
        lines=[
            ("blue", P4_BLUE_X, P4_BLUE_Y), ("orange", P4_ORANGE_X, P4_ORANGE_Y),
            ("green", P4_GREEN_X, P4_GREEN_Y), ("red", P4_RED_X, P4_RED_Y),
            ("purple", P4_PURPLE_X, P4_PURPLE_Y), ("brown", P4_BROWN_X, P4_BROWN_Y),
            ("pink", P4_PINK_X, P4_PINK_Y), ("gray", P4_GRAY_X, P4_GRAY_Y),
            ("olive", P4_OLIVE_X, P4_OLIVE_Y),
        ],
        box=(488.3, 846.0, 406.0, 722.3), xr=[-0.04, 13.733], yr=[0.3026, 1.0428],
        xt=P4_XTICKS, yt=P4_YTICKS, lw=3.0,
    ),
]

fig = go.Figure()
axis_style = dict(
    showline=True, mirror=True, linecolor="#404040", linewidth=1,
    ticks="outside", ticklen=3.5, tickwidth=1, tickcolor="#404040",
    showgrid=False, zeroline=False,
    tickfont=dict(family=FONT, size=13.5, color="black"),
)
annotations = []
for i, p in enumerate(panels):
    sfx = "" if i == 0 else str(i + 1)
    for cname, xs, ys in p["lines"]:
        fig.add_trace(go.Scatter(
            x=list(xs), y=ys, mode="lines",
            line=dict(color=COLORS[cname], width=p["lw"]),
            xaxis="x" + sfx, yaxis="y" + sfx, showlegend=False, hoverinfo="skip",
        ))
    left, right, top, bottom = p["box"]
    fig.update_layout(**{
        "xaxis" + sfx: dict(domain=[px_x(left), px_x(right)], range=p["xr"], anchor="y" + sfx,
                            tickvals=p["xt"], ticktext=[str(v) for v in p["xt"]], **axis_style),
        "yaxis" + sfx: dict(domain=[px_y(bottom), px_y(top)], range=p["yr"], anchor="x" + sfx,
                            tickvals=p["yt"], ticktext=[f"{v:.1f}" for v in p["yt"]], **axis_style),
    })
    cx = (left + right) / 2
    # panel title
    annotations.append(dict(text=TITLES[i], x=px_x(cx), y=px_y(top - 11.2), xref="paper", yref="paper",
                            xanchor="center", yanchor="middle", showarrow=False,
                            font=dict(family=FONT, size=19.5, color="black")))
    # x label, just under the tick numbers
    annotations.append(dict(text=X_LABEL, x=px_x(cx), y=px_y(bottom + 32), xref="paper", yref="paper",
                            xanchor="center", yanchor="middle", showarrow=False,
                            font=dict(family=FONT, size=15.7, color="black")))
    # y label
    annotations.append(dict(text=Y_LABEL, x=px_x(left - 39.5), y=px_y((top + bottom) / 2), xref="paper",
                            yref="paper", xanchor="center", yanchor="middle", textangle=-90,
                            showarrow=False, font=dict(family=FONT, size=15.7, color="black")))

fig.update_layout(
    width=W, height=H, margin=dict(l=0, r=0, t=0, b=0),
    paper_bgcolor="white", plot_bgcolor="white",
    annotations=annotations,
)
fig.write_html("out.html")
